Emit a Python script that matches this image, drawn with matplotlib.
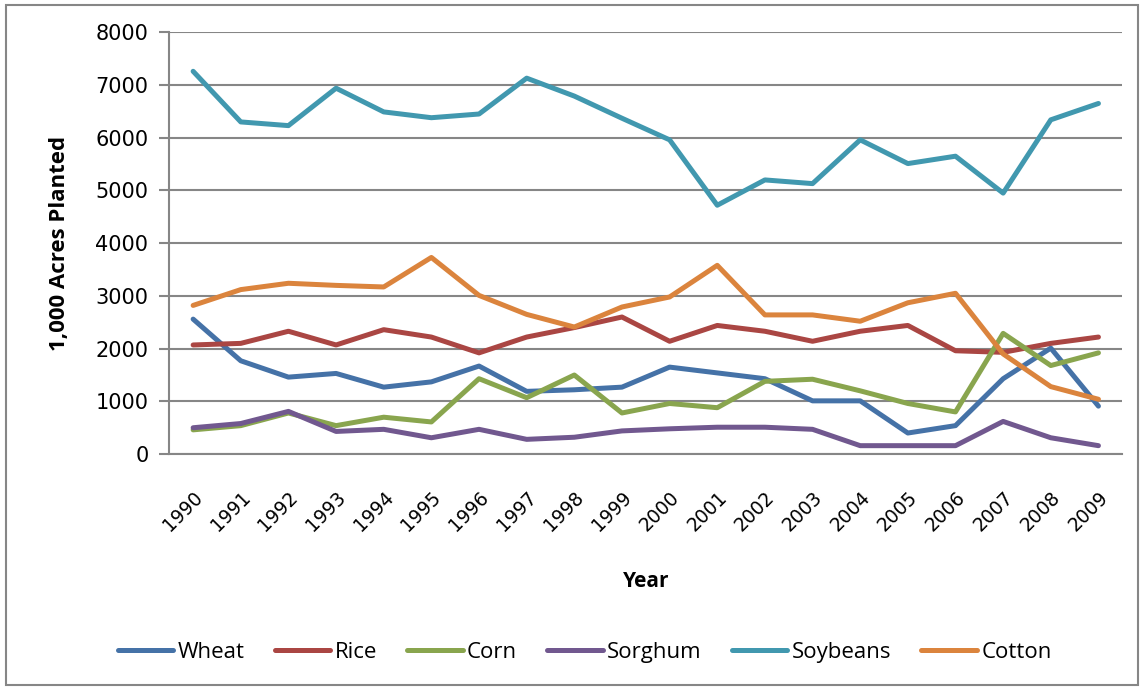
import matplotlib.pyplot as plt
from matplotlib.patches import Rectangle

# Acres planted by crop, 1990-2009 (1,000 acres)
years = [str(y) for y in range(1990, 2010)]
wheat = [2560, 1770, 1460, 1530, 1270, 1370, 1670, 1190, 1220, 1270,
         1650, 1540, 1430, 1010, 1010, 400, 540, 1430, 2010, 910]
rice = [2070, 2100, 2330, 2070, 2360, 2220, 1920, 2220, 2400, 2600,
        2140, 2440, 2330, 2140, 2330, 2440, 1960, 1930, 2100, 2220]
corn = [460, 540, 780, 540, 700, 610, 1430, 1070, 1500, 780,
        960, 880, 1380, 1420, 1200, 960, 800, 2290, 1680, 1920]
sorghum = [500, 580, 810, 430, 470, 310, 470, 280, 320, 440,
           480, 510, 510, 470, 160, 160, 160, 620, 310, 160]
soybeans = [7260, 6300, 6230, 6940, 6490, 6380, 6450, 7130, 6790, 6370,
            5960, 4720, 5200, 5130, 5960, 5510, 5650, 4950, 6340, 6650]
cotton = [2820, 3120, 3240, 3200, 3170, 3730, 3010, 2650, 2410, 2790,
          2980, 3580, 2640, 2640, 2520, 2870, 3050, 1900, 1280, 1040]

series = [('Wheat', wheat, '#4572A7'),
          ('Rice', rice, '#AA4643'),
          ('Corn', corn, '#89A54E'),
          ('Sorghum', sorghum, '#71588F'),
          ('Soybeans', soybeans, '#4198AF'),
          ('Cotton', cotton, '#DB843D')]

fig = plt.figure(figsize=(11.44, 6.87), dpi=100)
ax = fig.add_axes([0.148, 0.339, 0.833, 0.614])

x = list(range(len(years)))
for name, vals, col in series:
    ax.plot(x, vals, color=col, linewidth=3.6, label=name,
            solid_capstyle='round', solid_joinstyle='round')

ax.set_xlim(-0.5, len(years) - 0.5)
ax.set_ylim(0, 8000)
ax.set_yticks(range(0, 8001, 1000))
ax.set_xticks(x)
ax.set_xticklabels(years, rotation=45, ha='right', rotation_mode='anchor')
ax.yaxis.grid(True, color='#868686', linewidth=1.5)
ax.set_axisbelow(True)

for s in ['top', 'right']:
    ax.spines[s].set_visible(False)
for s in ['left', 'bottom']:
    ax.spines[s].set_color('#868686')
    ax.spines[s].set_linewidth(1.5)

ax.tick_params(axis='y', length=7, width=1.5, color='#868686',
               labelsize=15, pad=8)
ax.tick_params(axis='x', length=0, labelsize=13.5, pad=24)
for lab in ax.get_yticklabels() + ax.get_xticklabels():
    lab.set_fontfamily('DejaVu Sans')

ax.set_ylabel('1,000 Acres Planted', fontsize=16, fontweight='bold',
              fontfamily='Open Sans', labelpad=18)
ax.set_xlabel('Year', fontsize=15, fontweight='bold',
              fontfamily='Open Sans', labelpad=26)

fig.legend(loc='center', bbox_to_anchor=(0.511, 0.05), ncol=6, frameon=False,
           prop={'family': 'Open Sans', 'size': 16}, handlelength=2.5,
           handletextpad=0.2, columnspacing=1.35)

# thin grey frame around the whole chart
fig.patches.append(Rectangle((0.005, 0.003), 0.99, 0.99, transform=fig.transFigure,
                             fill=False, edgecolor='#868686', linewidth=1.5))

fig.savefig('out.png', dpi=100)
